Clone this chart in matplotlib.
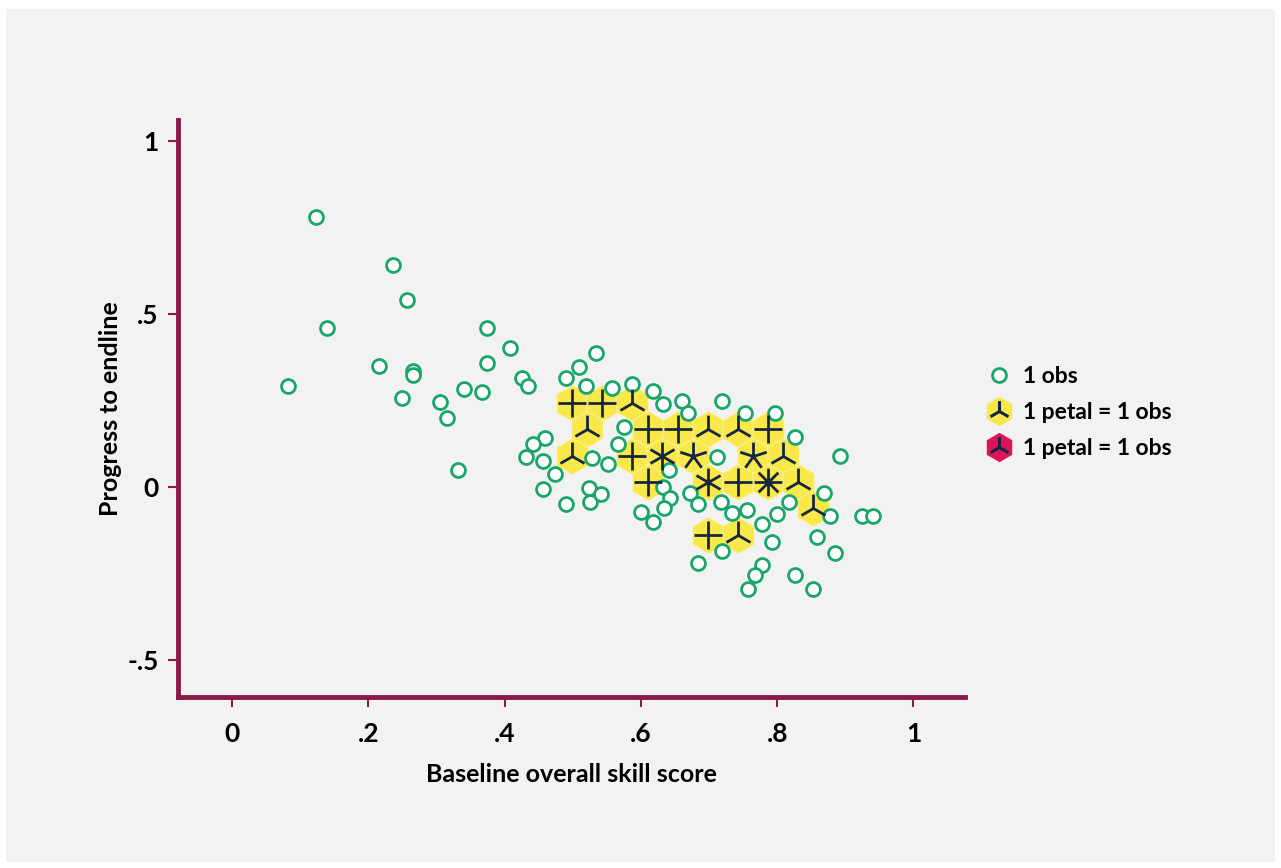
import numpy as np
import matplotlib
matplotlib.use("Agg")
import matplotlib.pyplot as plt
from matplotlib.path import Path
from matplotlib.lines import Line2D
from matplotlib.patches import Rectangle
from matplotlib.legend_handler import HandlerTuple

plt.rcParams['font.family'] = ['Lato', 'DejaVu Sans']
plt.rcParams['font.weight'] = 'bold'

# single observations (hollow circles)
obs_x = [0.1232, 0.2361, 0.2566, 0.1393, 0.3739, 0.4076, 0.3739, 0.2155, 0.2654,
         0.2654, 0.0821, 0.3402, 0.3666, 0.4252, 0.4340, 0.2493, 0.3050, 0.3152,
         0.3314, 0.4589, 0.4413, 0.4311, 0.4560, 0.4560, 0.5337, 0.5088, 0.4897,
         0.5191, 0.5572, 0.5865, 0.6173, 0.6320, 0.5748, 0.5660, 0.5279, 0.5513,
         0.4736, 0.5235, 0.5249, 0.5411, 0.4897, 0.6000, 0.6173, 0.6408, 0.6320,
         0.6422, 0.6334, 0.6598, 0.6686, 0.7185, 0.7522, 0.7962, 0.8255, 0.8915,
         0.7111, 0.6716, 0.6833, 0.7170, 0.7331, 0.7551, 0.7771, 0.7991, 0.8167,
         0.8680, 0.8768, 0.9252, 0.9399, 0.8578, 0.7918, 0.8842, 0.7185, 0.6833,
         0.7771, 0.7669, 0.8255, 0.7566, 0.8519]
obs_y = [0.7803, 0.6416, 0.5405, 0.4595, 0.4595, 0.4017, 0.3584, 0.3497, 0.3353,
         0.3237, 0.2919, 0.2832, 0.2746, 0.3150, 0.2919, 0.2572, 0.2457, 0.1994,
         0.0491, 0.1416, 0.1243, 0.0867, 0.0751, -0.0058, 0.3873, 0.3468, 0.3150,
         0.2919, 0.2861, 0.2977, 0.2775, 0.2399, 0.1734, 0.1243, 0.0838, 0.0665,
         0.0376, -0.0029, -0.0434, -0.0202, -0.0491, -0.0723, -0.1012, 0.0491,
         0.0000, -0.0318, -0.0607, 0.2486, 0.2139, 0.2486, 0.2139, 0.2139, 0.1445,
         0.0896, 0.0867, -0.0173, -0.0491, -0.0434, -0.0751, -0.0665, -0.1069,
         -0.0780, -0.0434, -0.0179, -0.0838, -0.0838, -0.0838, -0.1445, -0.1590,
         -0.1908, -0.1850, -0.2197, -0.2254, -0.2543, -0.2543, -0.2948, -0.2948]

# sunflowers: hexagon centres and number of petals (1 petal = 1 obs)
sun_x = [0.4985, 0.5425, 0.5870,
         0.5205, 0.6100, 0.6540, 0.6980, 0.7420, 0.7860,
         0.4985, 0.5870, 0.6310, 0.6760, 0.7640, 0.8080,
         0.6100, 0.6980, 0.7420, 0.7860, 0.8300,
         0.8530,
         0.6980, 0.7420]
sun_y = [0.243, 0.243, 0.243,
         0.167, 0.167, 0.167, 0.167, 0.167, 0.167,
         0.090, 0.090, 0.090, 0.090, 0.090, 0.090,
         0.014, 0.014, 0.014, 0.014, 0.014,
         -0.062,
         -0.139, -0.139]
sun_n = [4, 4, 3,
         3, 4, 4, 3, 3, 4,
         3, 4, 6, 5, 5, 3,
         4, 6, 4, 8, 3,
         3,
         4, 3]

x_ticks = [0, 0.2, 0.4, 0.6, 0.8, 1]
x_labels = ['0', '.2', '.4', '.6', '.8', '1']
y_ticks = [-0.5, 0, 0.5, 1]
y_labels = ['-.5', '0', '.5', '1']

maroon = '#8a1a4c'
green = '#1aa66a'
yellow = '#f8e84a'
red = '#e0125a'
navy = '#17263f'


def petals(n):
    verts, codes = [], []
    for k in range(n):
        a = np.pi / 2 + 2 * np.pi * k / n
        verts += [(0, 0), (np.cos(a), np.sin(a))]
        codes += [Path.MOVETO, Path.LINETO]
    return Path(verts, codes)


fig = plt.figure(figsize=(12.81, 8.68), dpi=100)
fig.patch.set_facecolor('white')
fig.add_artist(Rectangle((6 / 1281, 6 / 868), 1269 / 1281, 853 / 868,
                         transform=fig.transFigure, facecolor='#f2f2f2',
                         edgecolor='none', zorder=-10))

ax = fig.add_axes([0.139, 0.197, 0.614, 0.665])
ax.set_facecolor('none')

ax.scatter(sun_x, sun_y, marker='h', s=26 ** 2, color=yellow,
           edgecolors='#fbf3b0', linewidths=0.6, zorder=2)
ax.scatter(obs_x, obs_y, marker='o', s=10 ** 2, facecolors='white',
           edgecolors=green, linewidths=2, zorder=3)
for x, y, n in zip(sun_x, sun_y, sun_n):
    ax.plot(x, y, marker=petals(n), ms=20, mec=navy, mew=2, ls='none', zorder=4)

ax.set_xlim(-0.079, 1.075)
ax.set_ylim(-0.607, 1.061)
ax.set_xticks(x_ticks, x_labels)
ax.set_yticks(y_ticks, y_labels)
for s in ['top', 'right']:
    ax.spines[s].set_visible(False)
for s in ['left', 'bottom']:
    ax.spines[s].set_color(maroon)
    ax.spines[s].set_linewidth(3.5)
ax.tick_params(axis='both', length=7, width=1.5, color=maroon, labelsize=19)
ax.tick_params(axis='x', pad=11)
ax.tick_params(axis='y', pad=7)

ax.set_xlabel('Baseline overall skill score', fontsize=18, fontweight='bold',
              labelpad=12)
ax.set_ylabel('Progress to endline', fontsize=18, fontweight='bold', labelpad=4)

h1 = Line2D([], [], marker='o', ms=10, mfc='white', mec=green, mew=2, ls='none')
h2 = (Line2D([], [], marker='h', ms=20, color=yellow, ls='none'),
      Line2D([], [], marker=petals(3), ms=15, mec=navy, mew=2.2, ls='none'))
h3 = (Line2D([], [], marker='h', ms=20, color=red, ls='none'),
      Line2D([], [], marker=petals(3), ms=15, mec=navy, mew=2.2, ls='none'))
fig.legend([h1, h2, h3], ['1 obs', '1 petal = 1 obs', '1 petal = 1 obs'],
           handler_map={tuple: HandlerTuple(ndivide=1)},
           loc='center left', bbox_to_anchor=(0.755, 0.525), frameon=False,
           fontsize=16.5, handlelength=1.0, handletextpad=0.55, labelspacing=0.65)

fig.savefig('out.png', dpi=100, facecolor=fig.get_facecolor())
